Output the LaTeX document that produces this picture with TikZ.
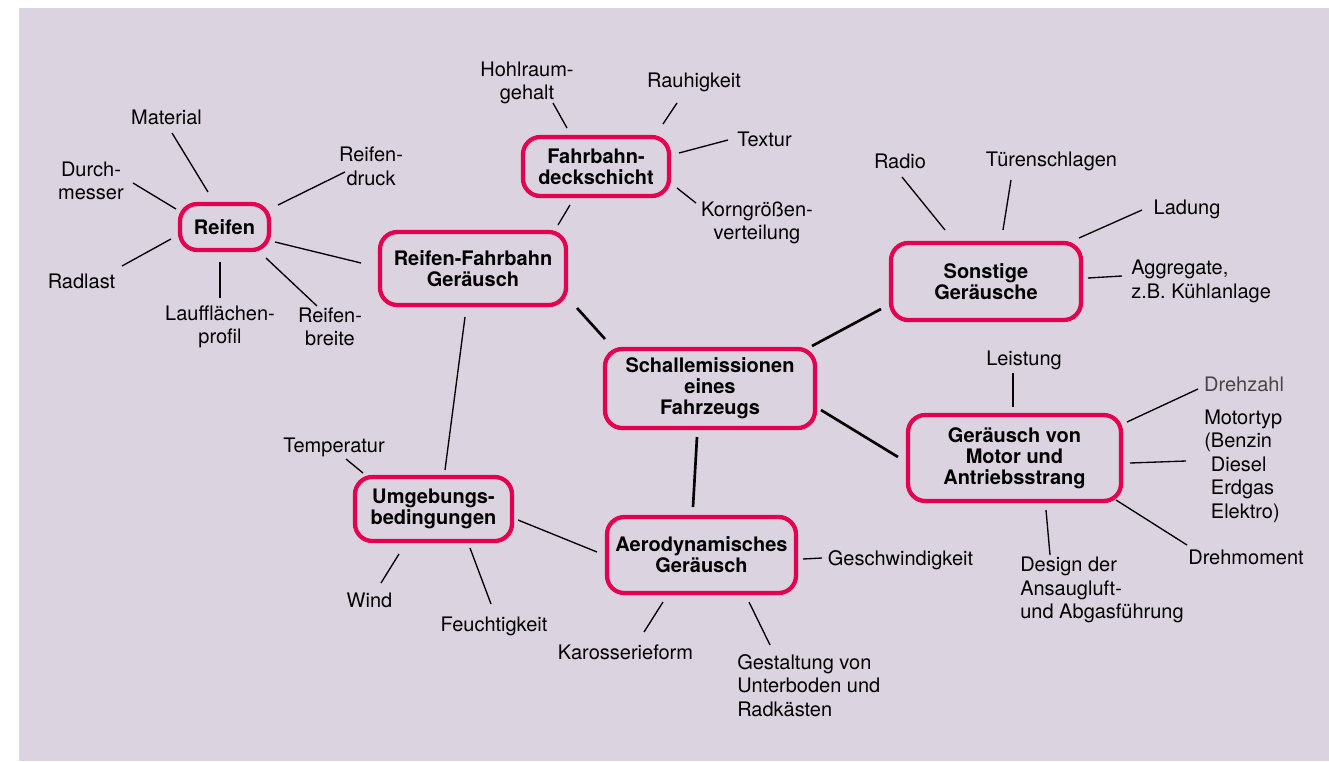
\documentclass[tikz,border=0pt]{standalone}
\usepackage{fontspec}
\setmainfont{TeX Gyre Heros}
\definecolor{bgc}{RGB}{219,211,224}
\definecolor{boxred}{RGB}{226,0,79}
\definecolor{graytext}{RGB}{70,70,70}
\tikzset{
  hub/.style 2 args={draw=boxred, line width=3.2pt, rounded corners=13pt, inner sep=0pt,
    minimum width=#1*0.75pt, minimum height=#2*0.75pt, align=center,
    font=\fontsize{15}{15.6}\selectfont\bfseries},
  leaf/.style={inner sep=0pt, align=center, font=\fontsize{15}{17.6}\selectfont},
  leafl/.style={leaf, align=left, anchor=west},
  thin/.style={line width=1pt, black},
  thick/.style={line width=2pt, black}
}
\begin{document}
\begin{tikzpicture}[x=0.75pt,y=-0.75pt]
\useasboundingbox (0,0) rectangle (1329,761);
\fill[white] (0,0) rectangle (1329,761);
\fill[bgc] (19,8) rectangle (1329,761);

% main boxes
\node[hub={89}{46}]  (reifen) at (224.5,227) {Reifen};
\node[hub={186}{73}] (rf)     at (473,268.5) {Reifen-Fahrbahn\\Geräusch};
\node[hub={146}{59}] (fahrb)  at (596,166.5) {Fahrbahn-\\deckschicht};
\node[hub={210}{79}] (schall) at (710,388.5) {Schallemissionen\\eines\\Fahrzeugs};
\node[hub={190}{77}] (sonst)  at (986,281.5) {Sonstige\\Geräusche};
\node[hub={213}{86}] (motor)  at (1014.5,458) {Geräusch von\\Motor und\\Antriebsstrang};
\node[hub={157}{64}] (umgeb)  at (433.5,509) {Umgebungs-\\bedingungen};
\node[hub={189}{76}] (aero)   at (701.5,555) {Aerodynamisches\\Geräusch};

% leaf labels
\node[leaf] (material) at (166.5,117) {Material};
\node[leaf] (durch) at (91,181) {Durch-\\messer};
\node[leaf] (druck) at (371,166.5) {Reifen-\\druck};
\node[leaf] (radlast) at (81.5,281) {Radlast};
\node[leaf] (lauf) at (220,327) {Laufflächen-\\profil};
\node[leaf] (breite) at (330,327) {Reifen-\\breite};
\node[leaf] (hohl) at (527,83) {Hohlraum-\\gehalt};
\node[leaf] (rauh) at (694,82) {Rauhigkeit};
\node[leaf] (textur) at (764.5,139) {Textur};
\node[leaf] (korn) at (757,223) {Korngrößen-\\verteilung};
\node[leaf] (radio) at (900,161) {Radio};
\node[leaf] (tuer) at (1051.5,161) {Türenschlagen};
\node[leaf] (ladung) at (1187,209) {Ladung};
\node[leafl] (aggr) at (1131,281.5) {Aggregate,\\z.B. Kühlanlage};
\node[leaf] (leist) at (1024,360) {Leistung};
\node[leaf, text=graytext] (drehz) at (1244,384) {Drehzahl};
\node[leafl] (mtyp) at (1204,466) {Motortyp\\(Benzin\\\phantom{(}Diesel\\\phantom{(}Erdgas\\\phantom{(}Elektro)};
\node[leaf] (drehm) at (1246,557) {Drehmoment};
\node[leafl] (design) at (1020,590) {Design der\\Ansaugluft-\\und Abgasführung};
\node[leaf] (temp) at (334,447) {Temperatur};
\node[leaf] (wind) at (369.5,600) {Wind};
\node[leaf] (feucht) at (494,626) {Feuchtigkeit};
\node[leaf] (geschw) at (900.5,560) {Geschwindigkeit};
\node[leaf] (karo) at (625.5,652) {Karosserieform};
\node[leafl] (gest) at (737,685.5) {Gestaltung von\\Unterboden und\\Radkästen};

% connector end points
\coordinate (a1) at (172,133);  \coordinate (a2) at (208,192);
\coordinate (b1) at (133,183);  \coordinate (b2) at (176,209);
\coordinate (c1) at (345,172);  \coordinate (c2) at (278,205);
\coordinate (d1) at (122,266);  \coordinate (d2) at (171,239);
\coordinate (e1) at (220,262);  \coordinate (e2) at (220,298);
\coordinate (f1) at (266,258);  \coordinate (f2) at (317,306);
\coordinate (g1) at (275,242);  \coordinate (g2) at (361,263);
\coordinate (h1) at (553,103);  \coordinate (h2) at (567,128);
\coordinate (i1) at (677,103);  \coordinate (i2) at (663,124);
\coordinate (j1) at (728,140);  \coordinate (j2) at (679,153);
\coordinate (k1) at (696,203);  \coordinate (k2) at (677,188);
\coordinate (l1) at (570,205);  \coordinate (l2) at (558,225);
\coordinate (m1) at (577,308);  \coordinate (m2) at (605,339);
\coordinate (n1) at (465,317);  \coordinate (n2) at (445,470);
\coordinate (o1) at (812,346);  \coordinate (o2) at (881,309);
\coordinate (p1) at (821,410);  \coordinate (p2) at (898,457);
\coordinate (q1) at (697,437);  \coordinate (q2) at (693,507);
\coordinate (r1) at (902,177);  \coordinate (r2) at (945,230);
\coordinate (s1) at (1011,180); \coordinate (s2) at (1003,230);
\coordinate (t1) at (1142,210); \coordinate (t2) at (1079,238);
\coordinate (u1) at (1088,278); \coordinate (u2) at (1122,276);
\coordinate (v1) at (1013,373); \coordinate (v2) at (1013,407);
\coordinate (w1) at (1198,389); \coordinate (w2) at (1127,422);
\coordinate (x1) at (1130,463); \coordinate (x2) at (1186,461);
\coordinate (y1) at (1116,500); \coordinate (y2) at (1187,545);
\coordinate (z1) at (1046,510); \coordinate (z2) at (1050,555);
\coordinate (aa1) at (346,459); \coordinate (aa2) at (363,473);
\coordinate (ab1) at (399,554); \coordinate (ab2) at (381,583);
\coordinate (ac1) at (470,548); \coordinate (ac2) at (491,604);
\coordinate (ad1) at (518,520); \coordinate (ad2) at (597,552);
\coordinate (ae1) at (803,559); \coordinate (ae2) at (822,558);
\coordinate (af1) at (663,602); \coordinate (af2) at (644,632);
\coordinate (ag1) at (749,602); \coordinate (ag2) at (770,645);

% thin connectors
\foreach \p in {a,b,c,d,e,f,g,h,i,j,k,l,n,r,s,t,u,v,w,x,y,z,aa,ab,ac,ad,ae,af,ag}
  \draw[thin] (\p1) -- (\p2);
% thick connectors
\foreach \p in {m,o,p,q}
  \draw[thick] (\p1) -- (\p2);
\end{tikzpicture}
\end{document}
